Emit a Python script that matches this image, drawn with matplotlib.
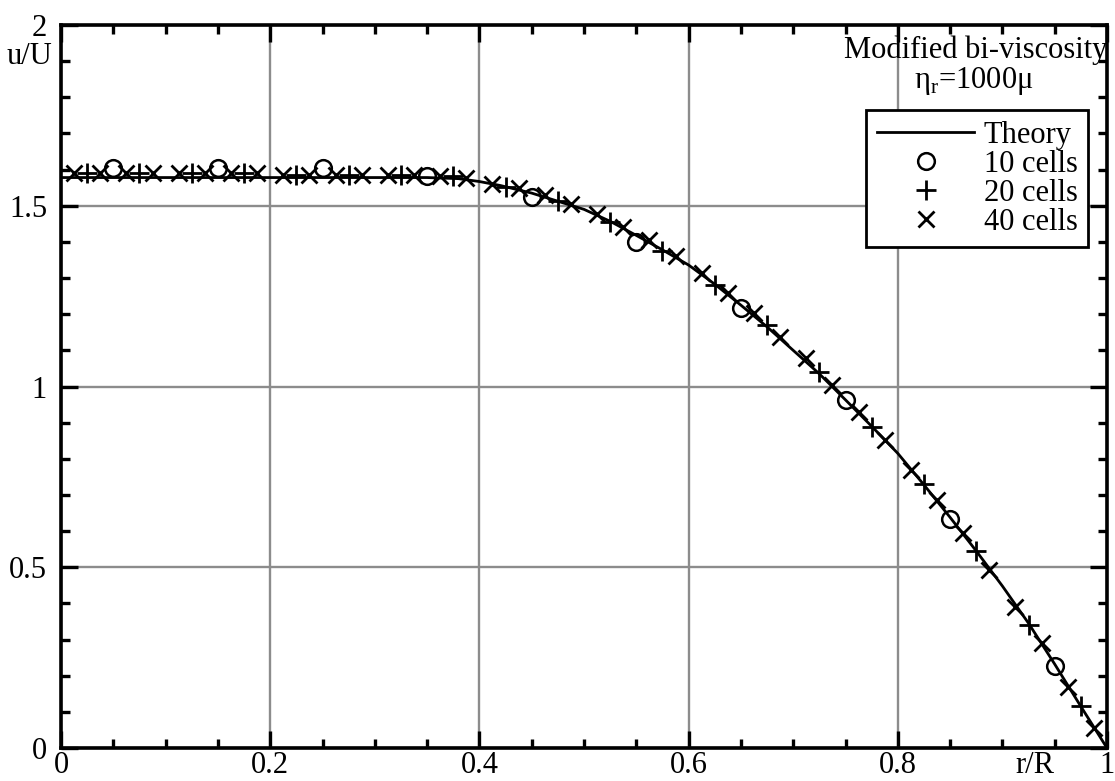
import matplotlib
matplotlib.use('Agg')
import matplotlib.pyplot as plt
from matplotlib.ticker import MultipleLocator, FixedLocator

plt.rcParams['font.family'] = ['Liberation Serif', 'DejaVu Serif']
plt.rcParams['mathtext.fontset'] = 'custom'
plt.rcParams['mathtext.rm'] = 'Liberation Serif'
plt.rcParams['font.size'] = 22

# theory curve
r_theory = [0.0, 0.35, 0.38, 0.40, 0.42, 0.45, 0.48, 0.50, 0.525, 0.55, 0.575, 0.60,
            0.625, 0.65, 0.675, 0.70, 0.725, 0.75, 0.775, 0.80, 0.825, 0.85, 0.875,
            0.90, 0.925, 0.95, 0.975, 1.0]
u_theory = [1.578, 1.578, 1.575, 1.567, 1.556, 1.535, 1.508, 1.490, 1.457, 1.418, 1.378, 1.336,
            1.283, 1.225, 1.165, 1.100, 1.035, 0.963, 0.890, 0.815, 0.728, 0.638, 0.545,
            0.448, 0.345, 0.232, 0.115, 0.0]

# 10 cells
r10 = [0.05, 0.15, 0.25, 0.35, 0.45, 0.55, 0.65, 0.75, 0.85, 0.95]
u10 = [1.605, 1.605, 1.604, 1.582, 1.524, 1.400, 1.217, 0.963, 0.633, 0.227]

# 20 cells
r20 = [0.025, 0.075, 0.125, 0.175, 0.225, 0.275, 0.325, 0.375, 0.425, 0.475,
       0.525, 0.575, 0.625, 0.675, 0.725, 0.775, 0.825, 0.875, 0.925, 0.975]
u20 = [1.590, 1.590, 1.590, 1.590, 1.586, 1.586, 1.585, 1.582, 1.552, 1.513,
       1.455, 1.375, 1.281, 1.170, 1.040, 0.888, 0.730, 0.545, 0.340, 0.116]

# 40 cells
r40 = [0.0125, 0.0375, 0.0625, 0.0875, 0.1125, 0.1375, 0.1625, 0.1875,
       0.2125, 0.2375, 0.2625, 0.2875, 0.3125, 0.3375, 0.3625, 0.3875,
       0.4125, 0.4375, 0.4625, 0.4875, 0.5125, 0.5375, 0.5625, 0.5875,
       0.6125, 0.6375, 0.6625, 0.6875, 0.7125, 0.7375, 0.7625, 0.7875,
       0.8125, 0.8375, 0.8625, 0.8875, 0.9125, 0.9375, 0.9625, 0.9875]
u40 = [1.590, 1.590, 1.590, 1.590, 1.590, 1.590, 1.590, 1.590,
       1.585, 1.585, 1.585, 1.585, 1.585, 1.585, 1.582, 1.577,
       1.560, 1.549, 1.530, 1.505, 1.477, 1.441, 1.405, 1.361,
       1.314, 1.259, 1.203, 1.137, 1.079, 1.004, 0.929, 0.852,
       0.769, 0.686, 0.595, 0.492, 0.390, 0.290, 0.169, 0.055]

x_ticks = [0, 0.2, 0.4, 0.6, 0.8, 1.0]
x_labels = ['0', '0.2', '0.4', '0.6', '0.8', '1']
y_ticks = [0, 0.5, 1.0, 1.5, 2.0]
y_labels = ['0', '0.5', '1', '1.5', '2']

fig = plt.figure(figsize=(11.15, 7.81), dpi=100)
ax = fig.add_axes([61 / 1115, 33 / 781, 1046 / 1115, 723 / 781])

ax.plot(r_theory, u_theory, color='black', lw=2.0, label='Theory', zorder=3)
ax.plot(r10, u10, ls='none', marker='o', ms=12, mfc='none', mec='black', mew=1.8,
        label='10 cells', zorder=4)
ax.plot(r20, u20, ls='none', marker='+', ms=14, mec='black', mew=2.0,
        label='20 cells', zorder=4)
ax.plot(r40, u40, ls='none', marker='x', ms=11.5, mec='black', mew=2.0,
        label='40 cells', zorder=4)

ax.set_xlim(0, 1)
ax.set_ylim(0, 2)
ax.xaxis.set_major_locator(FixedLocator(x_ticks))
ax.set_xticklabels(x_labels)
ax.yaxis.set_major_locator(FixedLocator(y_ticks))
ax.set_yticklabels(y_labels)
ax.xaxis.set_minor_locator(MultipleLocator(0.05))
ax.yaxis.set_minor_locator(MultipleLocator(0.1))
ax.tick_params(which='both', direction='in', top=True, right=True, width=2.4, color='black')
ax.tick_params(which='major', length=12, labelsize=22)
ax.tick_params(axis='x', which='major', pad=2)
ax.tick_params(axis='y', which='major', pad=10)
ax.tick_params(which='minor', length=6.5)
ax.tick_params(right=True, labelright=False, top=True, labeltop=False)

ax.grid(True, which='major', color='#8c8c8c', lw=1.7)
ax.set_axisbelow(True)
for s in ax.spines.values():
    s.set_linewidth(2.6)

ax.text(-0.0086, 0.957, 'u/U', transform=ax.transAxes, ha='right', va='center', fontsize=22)
ax.text(0.931, -0.0035, 'r/R', transform=ax.transAxes, ha='center', va='top', fontsize=22)
ax.text(1.0, 0.965, 'Modified bi-viscosity', transform=ax.transAxes, ha='right', va='center',
        fontsize=22)
ax.text(0.873, 0.923, 'η$_\\mathrm{r}$=1000μ', transform=ax.transAxes, ha='center', va='center',
        fontsize=22)

leg = ax.legend(loc='upper left', bbox_to_anchor=((866 - 61) / 1046, (748 - 110) / 723),
                frameon=True, fancybox=False, edgecolor='black', framealpha=1,
                handlelength=3.2, handletextpad=0.3, labelspacing=0.0, borderpad=0.35,
                borderaxespad=0, fontsize=22)
leg.get_frame().set_linewidth(2.0)

fig.savefig('out.png', dpi=100)
